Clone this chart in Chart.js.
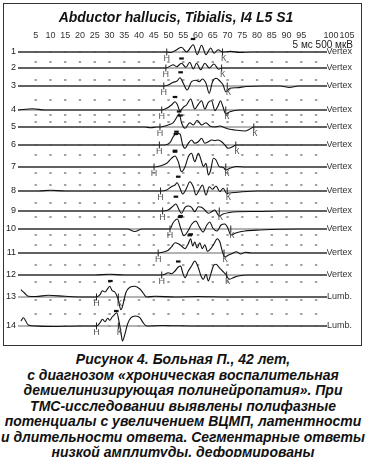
<!DOCTYPE html>
<html>
<head>
<meta charset="utf-8">
<script src="https://cdn.jsdelivr.net/npm/chart.js@4.4.1/dist/chart.umd.min.js"></script>
<style>
  html, body { margin:0; padding:0; background:#fff; }
  body { width:366px; height:457px; position:relative; overflow:hidden; font-family:"Liberation Sans", Arial, sans-serif; }
  #frame { position:absolute; left:3px; top:3px; width:359px; height:343px; box-sizing:border-box; border:1px solid #333; }
  #cv { position:absolute; left:0; top:0; width:366px; height:345px; }
  #scale { position:absolute; right:13px; top:39px; font-size:10px; line-height:12px; color:#222; }
  #caption { position:absolute; left:0; top:352px; width:366px; text-align:center; font-weight:bold; font-style:italic; font-size:14px; line-height:15.5px; color:#111; }
</style>
</head>
<body>
<div id="frame"></div>
<canvas id="cv" width="366" height="345"></canvas>
<div id="scale">5 мс 500 мкВ</div>
<div id="caption">Рисунок 4. Больная П., 42 лет,<br>с диагнозом «хроническая воспалительная<br>демиелинизирующая полинейропатия». При<br>ТМС-исследовании выявлены полифазные<br>потенциалы с увеличением ВЦМП, латентности<br>и длительности ответа. Сегментарные ответы<br>низкой амплитуды, деформированы</div>
<script>
// ---- data ----
const xTickValues = [5,10,15,20,25,30,35,40,45,50,55,60,65,70,75,80,85,90,95,100,105];
const xTickLabels = ['5','10','15','20','25','30','35','40','45','50','55','60','65','70','75','80','85','90','95','100','105'];
const rowNumbers = ['1','2','3','4','5','6','7','8','9','10','11','12','13','14'];
const rowLeads = ['Vertex','Vertex','Vertex','Vertex','Vertex','Vertex','Vertex','Vertex','Vertex','Vertex','Vertex','Vertex','Lumb.','Lumb.'];
const traceOffsets = [52, 68, 86, 110, 127, 145, 167, 191, 211, 229, 253, 275, 297, 326];
const onsetH = [49.4, 49.1, 48.4, 47.7, 47.1, 46.9, 45.1, 47.3, 48.0, 50.5, 46.5, 47.7, 25.6, 25.6];
const endK   = [68.3, 68.0, 69.9, 69.4, 78.9, 72.8, 69.4, 69.9, 67.2, 71.1, 68.8, 69.7, 33.0, 33.0];

const trace1 = [[-1,0],[49.4,0],[50.8,-0.5],[52.2,1.3],[54.4,4.7],[56.1,0],[58.4,7.3],[59.7,-2.7],[61.2,6.7],[62.7,-2.7],[64.3,4],[65.4,-1.3],[66.8,2.3],[68.3,0],[71,0.6],[74,-0.4],[78,0],[103.7,0]];
const trace2 = [[-1,0],[49.1,0],[51.6,3.3],[52.7,1.3],[54.4,4.7],[55.9,0.7],[57.2,5.7],[58.4,-1],[59.5,4.7],[60.9,-1.7],[62.3,4.7],[63.8,0],[65.4,4],[67,-1.3],[68,0],[103.7,0]];
const trace3 = [[-1,0],[48.4,0],[49.9,1],[51.6,3.7],[52.9,5],[53.9,8.3],[55,2.7],[56.3,-4],[57.8,4.3],[59.3,5.7],[60.4,4.3],[61.5,7],[62.7,2.7],[63.8,-7.3],[64.9,4.3],[66.1,7.7],[67.4,5],[68.5,1],[69.4,-5.7],[70.8,-2.3],[73.1,-1.7],[76.4,-0.5],[82,0],[88,0],[91,-1.5],[94,0],[103.7,0]];
const trace4 = [[-1,0],[4,1.2],[8,0],[47.7,0],[49.4,1.7],[51,5],[52.2,8.3],[52.9,6],[53.9,-0.7],[55,2.7],[56.1,5],[57.5,11],[58.9,1],[60.1,5.7],[61.2,9.3],[62.3,1],[63.5,7.7],[64.6,9.3],[65.7,-0.7],[66.8,4.3],[67.6,9.3],[68.5,2.7],[69.4,-4],[70.8,-1.7],[74.2,0],[103.7,0]];
const trace5 = [[-1,0],[42,0],[44,-0.8],[46,0],[47.1,0],[48.8,1],[50.5,2.7],[51.6,4.3],[52.7,9.3],[53.6,13.3],[54.4,4.3],[55.6,-1.3],[57.2,4.3],[58.4,2],[59.7,6.7],[61.2,2],[62.7,4.3],[64,1],[65.7,0],[67.4,1],[69.1,-0.7],[70.8,-2.3],[72.5,-3],[75.9,-4],[77.6,-2],[78.9,0],[103.7,0]];
const trace6 = [[-1,0],[46.9,0],[48.8,0],[50.5,2.3],[51.6,8.3],[52.7,11.7],[53.9,11],[54.8,0],[55.6,-3.3],[56.7,1.7],[57.8,5],[58.9,1.7],[60.1,3.3],[61.2,6.7],[62.3,1.7],[63.5,3.3],[64.6,5],[65.7,4.3],[66.8,5],[68,3.3],[69.1,0],[70.2,-3.3],[71.7,-1.7],[72.8,0],[103.7,0]];
const trace7 = [[-1,0],[45.1,0],[47.1,1],[49.4,3.7],[51,8.7],[52.2,11],[53.3,5.3],[54.4,-4.7],[55.6,0.3],[56.7,10.3],[57.8,13.7],[58.9,5.3],[60.1,13.7],[61.2,5.3],[61.8,0.3],[62.7,3.7],[63.5,-8],[64.3,-3],[65.2,8.7],[66.1,7],[67.2,0.3],[68.5,-0.3],[69.4,-3],[70.8,-1.3],[73.1,0.5],[76,0],[103.7,0]];
const trace8 = [[-1,0],[6,0],[10,0.8],[15,0],[47.3,0],[49.4,1],[51,4.3],[52.2,6],[52.9,8.3],[53.9,2.7],[54.8,-3],[56.1,2.7],[57.2,9.3],[58.4,4.3],[59.3,-4],[60.4,1],[61.5,6],[62.7,-4],[63.8,4.3],[64.9,1.7],[66.1,5],[67.4,-0.7],[68.5,2.7],[69.7,-2.3],[71.4,-1.7],[75,-0.7],[80,0],[103.7,0]];
const trace9 = [[-1,0],[48,0],[49.9,1],[51.6,5],[52.5,7],[53.6,1],[54.4,-2.3],[55.6,3.7],[56.7,5],[57.8,3.7],[58.9,-0.7],[60.1,4.3],[61.2,3.7],[62.3,1],[63.5,-2.3],[64.6,-0.7],[65.7,1],[66.5,-2.3],[67.2,-5],[68.5,-3],[70.2,-1.7],[73.1,-0.7],[80,-0.5],[88,0],[103.7,0]];
const trace10 = [[-1,0],[36,0],[38.6,-2.5],[41,0],[50.5,0],[51.5,6],[53,10],[54.2,0],[55.2,-6.7],[56.6,-2],[57.9,5],[59.3,8],[60.3,3],[61.7,-3],[63,4],[64,7],[65,1],[66.4,-2],[67.8,4],[69.1,5],[70.1,1],[71.1,-6],[72.8,-4],[75.9,-2],[81,-1],[94.5,0],[103.7,0]];
const trace11 = [[-1,0],[46.5,0],[48.2,1],[49.9,2.7],[51,6],[52.2,10.3],[53.3,9.3],[54.4,7],[55.6,4.3],[56.7,9.3],[57.5,14.3],[58.2,7],[58.9,11],[59.7,5],[60.6,10.3],[61.4,4.3],[62.3,8.3],[63.2,1.7],[64.3,4.3],[65.4,9.3],[66.5,14.3],[67.4,11],[68.3,1],[69.1,-4],[70.2,-2.3],[71.4,-0.7],[73,1.2],[74.5,-1],[76,0.8],[78,0],[103.7,0]];
const trace12 = [[-1,0],[25,0],[30,0.8],[35,0],[47.7,0],[48.8,0.7],[49.9,2.3],[51,1.3],[52.2,4],[53.3,8],[54.1,9],[54.8,2.3],[55.6,-2.7],[56.7,4],[57.8,9],[58.9,14],[60.1,7.3],[61,-1],[61.8,-4.3],[62.7,0.7],[63.5,-6],[64.3,0.7],[65.2,9],[66.1,10.7],[67.2,7.3],[68.3,4],[69.4,0.7],[70.6,-4.3],[71.9,-2.7],[73.6,-1],[77,0],[103.7,0]];
const trace13 = [[0,7.3],[1.2,4],[2.5,0.7],[5,0.5],[9.3,1.7],[14.9,0.7],[20.6,0],[25.6,0],[26.8,2.3],[27.6,6.3],[28.5,5],[29.4,8.3],[30.1,10.7],[30.9,6.3],[31.8,5],[32.8,-1],[33.9,-12.7],[34.7,-6],[35.5,4],[36.9,9.7],[38.6,10.7],[40.3,8],[41.4,4],[42.6,0],[45.4,0.7],[52.2,0],[60,0.5],[70,0],[103.7,0]];
const trace14 = [[0,5],[0.8,8.3],[2.5,1],[5,0],[10,-0.5],[20,0],[25.6,0],[26.8,3.3],[27.6,6.7],[28.5,4.3],[29.4,7.7],[30.1,5.7],[30.9,9],[31.8,11.7],[32.5,13.3],[33.2,5],[33.9,-6.7],[34.4,-15],[35.2,-8.3],[36.1,1.7],[37.3,8.3],[38.8,10],[40.3,8.3],[41.4,3.3],[42.6,0],[48,0.5],[60,0],[103.7,0]];
const traces = [trace1,trace2,trace3,trace4,trace5,trace6,trace7,trace8,trace9,trace10,trace11,trace12,trace13,trace14];

// peak markers [time, amplitude] per row (null = none)
const topMarks = [[58.3,13],null,[54.1,13.7],[52.2,13],[53.6,15.5],[52.7,13.3],[52.2,15.3],[53.3,14.3],[52.5,14.3],[53.9,12],[57.5,18.7],[53.3,13.5],[30.3,16],[32.3,15]];
const bottomMarks = [[54.4,-6.5],null,null,[54.0,-5.5],[52.5,-7],[52.2,-5.7],null,null,[54.1,-5],[57.2,-6.3],null,null,null,null];
// dotted reference rows and their 5-ms dot times
const dotRows = [52, 62, 80, 100, 115, 122, 145, 155, 173, 185, 203, 217, 235, 245, 265, 282, 300, 314, 326];
const dotTimes = [5,10,15,20,25,30,35,40,45,50,55,60,65,70,75,80,85,90,95,100];
const traceStart = -1, traceEnd = 103.7;

// ---- build ----
const FONT = '"Liberation Sans", Arial, sans-serif';
const datasets = [];
datasets.push({
  type:'scatter', data: dotRows.flatMap(r => dotTimes.map(t => ({x:t, y:r}))),
  pointStyle:'line', pointRadius:1.2, pointBorderWidth:1.2, pointBorderColor:'#444', order:5
});
traceOffsets.forEach(b => datasets.push({
  type:'line', data:[{x:traceStart,y:b},{x:traceEnd,y:b}], borderColor:'#9a9a9a', borderWidth:1.4, pointRadius:0, order:4
}));
traces.forEach((tr,i) => datasets.push({
  type:'line', data: tr.map(([t,a]) => ({x:t, y:traceOffsets[i]-a})),
  borderColor:'#111', borderWidth:1.1, pointRadius:0, cubicInterpolationMode:'monotone', order:3, clip:false
}));
datasets.push({
  type:'scatter', data: traceOffsets.map((b,i)=>({x:onsetH[i], y:b})).concat(traceOffsets.map((b,i)=>({x:endK[i], y:b}))),
  pointStyle:'line', rotation:90, pointRadius:3.5, pointBorderWidth:1, pointBorderColor:'#222', order:2, clip:false
});
const markPts = [];
topMarks.forEach((m,i)=>{ if(m) markPts.push({x:m[0], y:traceOffsets[i]-m[1]}); });
bottomMarks.forEach((m,i)=>{ if(m) markPts.push({x:m[0], y:traceOffsets[i]-m[1]}); });
datasets.push({
  type:'scatter', data: markPts, pointStyle:'line', pointRadius:2.3, pointBorderWidth:2.2, pointBorderColor:'#111', order:1, clip:false
});

const hkLetters = {
  id:'hkLetters',
  afterDatasetsDraw(chart){
    const {ctx, scales:{x, y}} = chart;
    ctx.save();
    ctx.font = '9px ' + FONT;
    ctx.fillStyle = '#555';
    ctx.textAlign = 'center';
    ctx.textBaseline = 'top';
    traceOffsets.forEach((b,i)=>{
      const py = y.getPixelForValue(b) + 2.5;
      ctx.fillText('Н', x.getPixelForValue(onsetH[i]), py);
      ctx.fillText('К', x.getPixelForValue(endK[i]) + 1, py);
    });
    ctx.restore();
  }
};

const yCommon = {
  type:'linear', reverse:true, min:42, max:337.6,
  grid:{display:false, drawTicks:false}, border:{display:false}
};

new Chart(document.getElementById('cv'), {
  type:'line',
  data:{ datasets },
  plugins:[hkLetters],
  options:{
    responsive:false, animation:false, devicePixelRatio:1,
    layout:{ padding:{left:0, right:14, top:0, bottom:2} },
    plugins:{
      legend:{display:false}, tooltip:{enabled:false},
      title:{ display:true, text:'Abductor hallucis, Tibialis, I4 L5 S1', color:'#111',
        font:{family:FONT, size:14, weight:'bold', style:'italic', lineHeight:1.2}, padding:{top:10, bottom:0} }
    },
    scales:{
      x:{ type:'linear', position:'top', min:-1, max:103.7,
        afterBuildTicks: s => { s.ticks = xTickValues.map(v => ({value:v})); },
        afterFit: s => { s.height = 15.2; },
        ticks:{ autoSkip:false, maxRotation:0, padding:1, color:'#333',
          font:{family:FONT, size:9},
          callback:(v,i) => xTickLabels[i] === '100' ? '            100' : (xTickLabels[i] === '105' ? '             105' : xTickLabels[i]) },
        grid:{display:false, drawTicks:false}, border:{display:false} },
      y: Object.assign({}, yCommon, { position:'left',
        afterBuildTicks: s => { s.ticks = traceOffsets.map(v => ({value:v})); },
        afterFit: s => { s.width = 18; },
        ticks:{ padding:2, color:'#222', font:{family:FONT, size:9}, callback:(v,i) => rowNumbers[i] } }),
      y2: Object.assign({}, yCommon, { position:'right',
        afterBuildTicks: s => { s.ticks = traceOffsets.map(v => ({value:v})); },
        afterFit: s => { s.width = 25; },
        ticks:{ padding:0, crossAlign:'far', color:'#333', font:{family:FONT, size:9}, callback:(v,i) => rowLeads[i] } })
    }
  }
});
</script>
</body>
</html>
